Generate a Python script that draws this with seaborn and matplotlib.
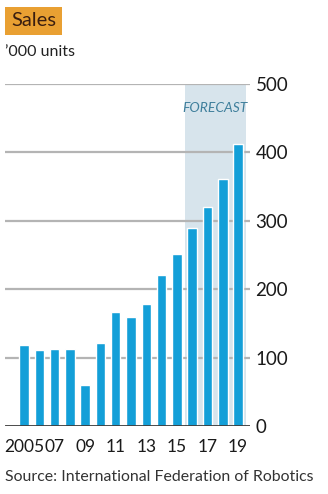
import matplotlib
matplotlib.use("Agg")
import matplotlib.pyplot as plt
import seaborn as sns
import pandas as pd

years = [str(y) for y in range(2005, 2020)]
sales = [119, 111, 113, 112, 60, 121, 166, 159, 178, 221, 252, 290, 320, 361, 412]
tick_labels = ["2005", "", "07", "", "09", "", "11", "", "13", "", "15", "", "17", "", "19"]
y_ticks = [0, 100, 200, 300, 400, 500]

sns.set_theme(style="white")
plt.rcParams['font.family'] = ['Lato', 'DejaVu Sans']

df = pd.DataFrame({"year": years, "sales": sales})

fig = plt.figure(figsize=(3.28, 4.94), dpi=100)
ax = fig.add_axes([5/328, (494-426)/494, 245/328, (426-84)/494])

ax.axvspan(10.5, 14.5, ymin=0, ymax=1, color="#d7e4ec", zorder=0, lw=0)
for t in y_ticks[1:]:
    ax.axhline(t, color="#b4b4b4", lw=1.6, zorder=1)

sns.barplot(data=df, x="year", y="sales", color="#139fd8", width=0.62,
            saturation=1, ax=ax, zorder=2)
ax.axhline(0, color="#3a3a3a", lw=2, zorder=3)

ax.set_xlim(-1.24, 14.78)
ax.set_ylim(0, 500)
ax.yaxis.tick_right()
ax.set_yticks(y_ticks)
ax.set_yticklabels([str(t) for t in y_ticks], fontsize=13.5, color="#1a1a1a")
ax.set_xticks(range(len(years)))
ax.set_xticklabels(tick_labels, fontsize=12.5, color="#1a1a1a")
ax.tick_params(axis="y", length=0, pad=4)
ax.tick_params(axis="x", length=0, pad=9)
ax.set_xlabel("")
ax.set_ylabel("")
for s in ax.spines.values():
    s.set_visible(False)
ax.set_facecolor("none")

ax.text(12.5, 465, "FORECAST", ha="center", va="center", fontsize=10,
        style="italic", color="#3f7f9c")

fig.text(11/328, 1 - 21/494, "Sales", fontsize=14.5, color="#3a1e10",
         va="center", ha="left",
         bbox=dict(boxstyle="square,pad=0.28", fc="#e9a032", ec="none"))
fig.text(5/328, 1 - 52/494, "\u2019000 units", fontsize=11.5, color="#222222",
         va="center", ha="left")
fig.text(5/328, 1 - 477/494, "Source: International Federation of Robotics",
         fontsize=11.4, color="#333333", va="center", ha="left")

fig.savefig("out.png", dpi=100)
